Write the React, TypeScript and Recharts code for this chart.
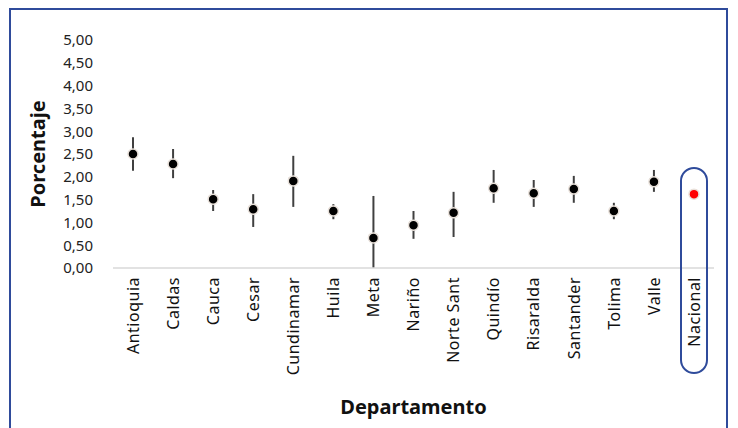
import React from 'react';
import { ComposedChart, Line, XAxis, YAxis, ErrorBar } from 'recharts';

const departamentos = [
  'Antioquia', 'Caldas', 'Cauca', 'Cesar', 'Cundinamar', 'Huila', 'Meta', 'Nariño',
  'Norte Sant', 'Quindío', 'Risaralda', 'Santander', 'Tolima', 'Valle', 'Nacional',
];
const porcentaje = [2.5, 2.28, 1.51, 1.29, 1.91, 1.25, 0.66, 0.94, 1.21, 1.75, 1.64, 1.73, 1.25, 1.89, 1.62];
const limiteInferior = [2.13, 1.97, 1.25, 0.9, 1.34, 1.07, 0.0, 0.64, 0.68, 1.43, 1.34, 1.43, 1.07, 1.67, 1.62];
const limiteSuperior = [2.87, 2.61, 1.71, 1.62, 2.46, 1.4, 1.58, 1.25, 1.67, 2.15, 1.93, 2.02, 1.43, 2.15, 1.62];
const yTicks = [0, 0.5, 1, 1.5, 2, 2.5, 3, 3.5, 4, 4.5, 5];

const data = departamentos.map((name, i) => ({
  name,
  value: porcentaje[i],
  err: [porcentaje[i] - limiteInferior[i], limiteSuperior[i] - porcentaje[i]],
}));

const FONT = '"Noto Sans", sans-serif';
const AZUL = '#2f4b9b';

const XTick = (props: any) => {
  const { x, y, payload } = props;
  const nacional = payload.value === 'Nacional';
  return (
    <g transform={`translate(${x},${y})`}>
      {nacional && (
        <rect x={-13} y={-108} width={26} height={205} rx={13} fill="none" stroke={AZUL} strokeWidth={2} />
      )}
      <text
        transform="rotate(-90)"
        textAnchor="end"
        x={-1}
        y={0}
        dy="0.36em"
        fontSize={16}
        letterSpacing={0.5}
        fill="#111"
        fontFamily={FONT}
      >
        {payload.value}
      </text>
    </g>
  );
};

const Punto = (props: any) => {
  const { cx, cy, payload } = props;
  if (cx == null || cy == null) return null;
  const rojo = payload.name === 'Nacional';
  return <circle cx={cx} cy={cy} r={5} fill={rojo ? '#ff0000' : '#000'} stroke="#e9e1da" strokeWidth={1.5} />;
};

export default function App() {
  return (
    <div style={{ position: 'absolute', left: 0, top: 0, width: 738, height: 428, background: '#fff', fontFamily: FONT }}>
      <div
        style={{
          position: 'absolute', left: 9, top: 8, width: 715, height: 419,
          border: `2px solid ${AZUL}`,
        }}
      />
      <div style={{ position: 'absolute', left: 0, top: 0 }}>
        <ComposedChart width={738} height={428} data={data} margin={{ top: 40, right: 24, bottom: 50, left: 53 }}>
          <XAxis
            dataKey="name"
            type="category"
            height={110}
            interval={0}
            padding={{ left: 20, right: 20 }}
            tickLine={false}
            axisLine={{ stroke: '#d9d9d9', strokeWidth: 1.5 }}
            tick={<XTick />}
            label={{ value: 'Departamento', position: 'bottom', offset: 22, style: { fontWeight: 'bold', fontSize: 20, fill: '#111', fontFamily: FONT } }}
          />
          <YAxis
            type="number"
            domain={[0, 5]}
            ticks={yTicks}
            width={60}
            axisLine={false}
            tickLine={false}
            tickMargin={14}
            tickFormatter={(v: number) => v.toFixed(2).replace('.', ',')}
            tick={{ fontSize: 15, fill: '#222', fontFamily: FONT }}
            label={{ value: 'Porcentaje', angle: -90, position: 'left', offset: 15, style: { textAnchor: 'middle', fontWeight: 'bold', fontSize: 20, fill: '#111', fontFamily: FONT } }}
          />
          <Line
            dataKey="value"
            stroke="none"
            strokeWidth={0}
            dot={<Punto />}
            activeDot={false}
            isAnimationActive={false}
          >
            <ErrorBar dataKey="err" direction="y" width={0} stroke="#404040" strokeWidth={2} isAnimationActive={false} />
          </Line>
        </ComposedChart>
      </div>
    </div>
  );
}
